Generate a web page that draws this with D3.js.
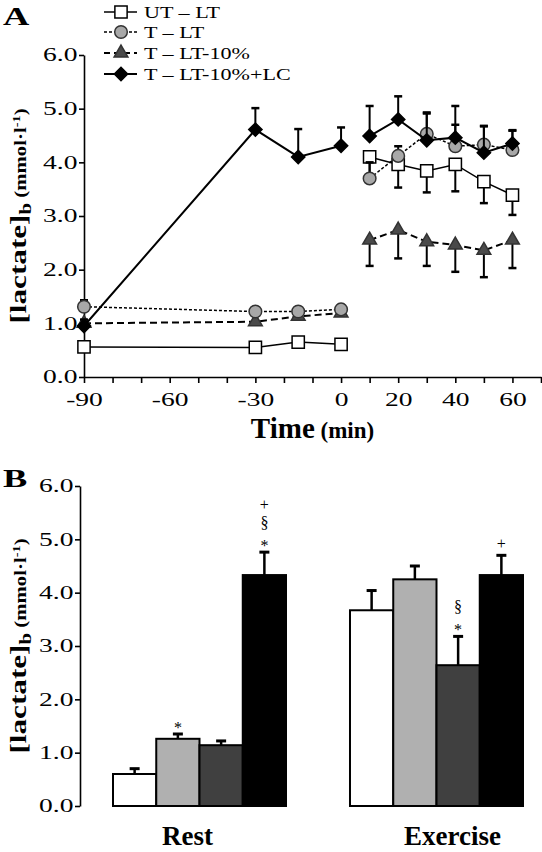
<!DOCTYPE html>
<html><head><meta charset="utf-8">
<script src="https://cdn.jsdelivr.net/npm/d3@7"></script>
<style>
body{margin:0;background:#fff}
svg{display:block;background:#fff}
text{font-family:"Liberation Serif","Times New Roman",serif;fill:#000}
</style>
</head><body>
<svg id="c" width="542" height="852"></svg>
<script>
// ---------- DATA ----------
const times = [-90, -30, -15, 0, 10, 20, 30, 40, 50, 60];
const restIdx = [0, 1, 2, 3];
const exIdx = [4, 5, 6, 7, 8, 9];
const seriesNames = ["UT – LT", "T – LT", "T – LT-10%", "T – LT-10%+LC"];
const utlt   = [0.56, 0.55, 0.65, 0.61, 4.10, 3.96, 3.84, 3.96, 3.64, 3.39];
const utltSD = [0.04, 0.04, 0.04, 0.04, 0.40, 0.43, 0.40, 0.50, 0.40, 0.37];
const tlt    = [1.31, 1.22, 1.22, 1.26, 3.70, 4.12, 4.53, 4.30, 4.33, 4.23];
const tltSD  = [0.12, 0.08, 0.06, 0.08, 0.30, 0.18, 0.40, 0.40, 0.34, 0.37];
const t10    = [1.00, 1.03, 1.13, 1.19, 2.55, 2.74, 2.52, 2.46, 2.36, 2.55];
const t10SD  = [0.04, 0.04, 0.04, 0.04, 0.48, 0.53, 0.45, 0.50, 0.50, 0.52];
const lc     = [0.95, 4.61, 4.10, 4.31, 4.49, 4.80, 4.41, 4.46, 4.18, 4.35];
const lcSD   = [0.12, 0.40, 0.52, 0.34, 0.56, 0.43, 0.50, 0.59, 0.50, 0.24];
const xTickValues = d3.range(-90, 71, 10);
const xTickLabels = [-90, -60, -30, 0, 20, 40, 60];
const yTicks = [0, 1, 2, 3, 4, 5, 6];

const groups = ["Rest", "Exercise"];
const conditions = ["UT – LT", "T – LT", "T – LT-10%", "T – LT-10%+LC"];
const restMeans = [0.60, 1.26, 1.14, 4.33];
const restSD    = [0.10, 0.09, 0.08, 0.43];
const exMeans   = [3.67, 4.25, 2.64, 4.33];
const exSD      = [0.37, 0.25, 0.54, 0.37];
const restMarks = ["", "*", "", "+§*"];
const exMarks   = ["", "", "§*", "+"];

// ---------- STYLES ----------
const barFill = ["#ffffff", "#b0b0b0", "#404040", "#000000"];
const svg = d3.select("#c");

function txt(g, x, y, s, o = {}) {
  const t = g.append("text")
    .attr("transform", `translate(${x},${y})` + (o.rot ? ` rotate(${o.rot})` : "") + (o.sx ? ` scale(${o.sx},1)` : ""))
    .attr("text-anchor", o.anchor || "start")
    .style("font-size", (o.size || 18) + "px")
    .style("font-weight", o.bold ? "bold" : "normal");
  if (s !== null) t.text(s);
  return t;
}

// ================= PANEL A =================
const xA = d3.scaleLinear().domain([-90, 70]).range([84, 541]);
const yA = d3.scaleLinear().domain([0, 6]).range([377, 55]);
const gA = svg.append("g");

txt(gA, 3, 25, "A", {size: 26, bold: true, sx: 1.4});

const axY = gA.append("g").attr("transform", `translate(${xA(-90)},0)`)
  .call(d3.axisLeft(yA).tickValues(yTicks).tickFormat(d3.format(".1f")).tickSize(5).tickSizeOuter(0));
const axX = gA.append("g").attr("transform", `translate(0,${yA(0)})`)
  .call(d3.axisBottom(xA).tickValues(xTickValues).tickFormat(d => xTickLabels.includes(d) ? d : "").tickSize(6).tickSizeOuter(0));

function styleAxis(ax, isY) {
  ax.select(".domain").attr("stroke", "#000").attr("stroke-width", 1.6);
  ax.selectAll(".tick line").attr("stroke", "#000").attr("stroke-width", 1.6);
  ax.selectAll(".tick text").attr("fill", "#000")
    .style("font-family", '"Liberation Serif","Times New Roman",serif')
    .style("font-size", "19px");
  if (isY) ax.selectAll(".tick text").attr("x", -4.5).attr("dy", "0.30em").attr("transform", "scale(1.45,1)");
  else ax.selectAll(".tick text").attr("y", 29).attr("dy", 0).attr("transform", "scale(1.45,1)");
  ax.attr("font-size", null).attr("font-family", null);
}
styleAxis(axY, true);
styleAxis(axX, false);

// x title
const tt = txt(gA, (xA.range()[0] + xA.range()[1]) / 2, 438, null, {anchor: "middle", size: 29, bold: true});
tt.append("tspan").text("Time");
tt.append("tspan").style("font-size", "23px").text(" (min)");

// y title
function yTitle(g, x, y) {
  const t = txt(g, x, y, null, {anchor: "middle", size: 24, bold: true, rot: -90, sx: 1.3});
  t.append("tspan").text("[lactate]");
  t.append("tspan").style("font-size", "16px").attr("dy", 5).text("b");
  t.append("tspan").style("font-size", "16px").attr("dy", -5).text(" (mmol·l");
  t.append("tspan").style("font-size", "11px").attr("dy", -6).text("-1");
  t.append("tspan").style("font-size", "16px").attr("dy", 6).text(")");
}
yTitle(gA, 26, 216);

// series
const series = [
  {name: seriesNames[0], v: utlt, sd: utltSD, dir: -1, shape: "square", fill: "#fff", stroke: "#000", dash: null, lw: 1.5},
  {name: seriesNames[2], v: t10, sd: t10SD, dir: -1, shape: "triangle", fill: "#4a4a4a", stroke: "#333", dash: "7,4", lw: 2},
  {name: seriesNames[1], v: tlt, sd: tltSD, dir: 1, shape: "circle", fill: "#a8a8a8", stroke: "#333", dash: "3,2", lw: 1.5},
  {name: seriesNames[3], v: lc, sd: lcSD, dir: 1, shape: "diamond", fill: "#000", stroke: "#000", dash: null, lw: 2}
];
const symPath = {
  square: d3.symbol().type(d3.symbolSquare).size(150)(),
  circle: d3.symbol().type(d3.symbolCircle).size(125)(),
  triangle: d3.symbol().type(d3.symbolTriangle).size(82)(),
  diamond: d3.symbol().type(d3.symbolSquare).size(88)()
};
function marker(g, s, x, y) {
  g.append("path").attr("d", symPath[s.shape])
    .attr("transform", `translate(${x},${y})` + (s.shape === "diamond" ? " rotate(45)" : ""))
    .attr("fill", s.fill).attr("stroke", s.stroke).attr("stroke-width", 1.5);
}

series.forEach(s => {
  const g = gA.append("g");
  const ln = d3.line().x(i => xA(times[i])).y(i => yA(s.v[i]));
  [restIdx, exIdx].forEach(idx => {
    g.append("path").attr("d", ln(idx)).attr("fill", "none").attr("stroke", "#000")
      .attr("stroke-width", s.lw).attr("stroke-dasharray", s.dash);
  });
  times.forEach((t, i) => {
    const x = xA(t), y0 = yA(s.v[i]), y1 = yA(s.v[i] + s.dir * s.sd[i]);
    g.append("line").attr("x1", x).attr("x2", x).attr("y1", y0).attr("y2", y1).attr("stroke", "#000").attr("stroke-width", 2);
    g.append("line").attr("x1", x - 4).attr("x2", x + 4).attr("y1", y1).attr("y2", y1).attr("stroke", "#000").attr("stroke-width", 2.5);
  });
  times.forEach((t, i) => marker(g, s, xA(t), yA(s.v[i])));
});

// legend
const legY = [12, 32, 53, 74];
const legOrder = [0, 2, 1, 3];
legOrder.forEach((si, k) => {
  const s = series[si], y = legY[k];
  gA.append("line").attr("x1", 104).attr("x2", 137).attr("y1", y).attr("y2", y)
    .attr("stroke", "#000").attr("stroke-width", s.lw).attr("stroke-dasharray", s.dash ? (s.dash === "7,4" ? "6,4" : "3,2") : null);
  marker(gA, s, 121, y);
  txt(gA, 144, y + 6, s.name, {size: 17, sx: 1.3});
});

// ================= PANEL B =================
const gB = svg.append("g");
const yB = d3.scaleLinear().domain([0, 6]).range([806, 486]);
const x0 = d3.scaleBand().domain(groups).range([113, 523]).paddingInner(0.27).paddingOuter(0);
const x1 = d3.scaleBand().domain(conditions).range([0, x0.bandwidth()]).padding(0);
const labelShift = {"Rest": -12, "Exercise": 16};

txt(gB, 3, 487, "B", {size: 26, bold: true, sx: 1.4});
const axYB = gB.append("g").attr("transform", "translate(80,0)")
  .call(d3.axisLeft(yB).tickValues(yTicks).tickFormat(d3.format(".1f")).tickSize(5).tickSizeOuter(0));
styleAxis(axYB, true);
yTitle(gB, 26, 646);

const bdata = [
  {g: "Rest", m: restMeans, sd: restSD, marks: restMarks},
  {g: "Exercise", m: exMeans, sd: exSD, marks: exMarks}
];
bdata.forEach(b => {
  const gg = gB.append("g").attr("transform", `translate(${x0(b.g)},0)`);
  conditions.forEach((c, i) => {
    const x = x1(c), w = x1.bandwidth(), cx = x + w / 2;
    gg.append("rect").attr("x", x).attr("y", yB(b.m[i])).attr("width", w).attr("height", yB(0) - yB(b.m[i]))
      .attr("fill", barFill[i]).attr("stroke", "#000").attr("stroke-width", 2);
    const yt = yB(b.m[i] + b.sd[i]);
    gg.append("line").attr("x1", cx).attr("x2", cx).attr("y1", yB(b.m[i])).attr("y2", yt).attr("stroke", "#000").attr("stroke-width", 2.5);
    gg.append("line").attr("x1", cx - 5).attr("x2", cx + 5).attr("y1", yt).attr("y2", yt).attr("stroke", "#000").attr("stroke-width", 3);
    const syms = Array.from(b.marks[i]).reverse();
    syms.forEach((ch, k) => {
      const yy = yt - 11 - k * 18;
      txt(gg, cx, yy + (ch === "*" ? 10 : 5), ch, {anchor: "middle", size: 16});
    });
  });
  txt(gB, x0(b.g) + x0.bandwidth() / 2 + labelShift[b.g], 845, b.g, {anchor: "middle", size: 27, bold: true});
});
</script>
</body></html>
